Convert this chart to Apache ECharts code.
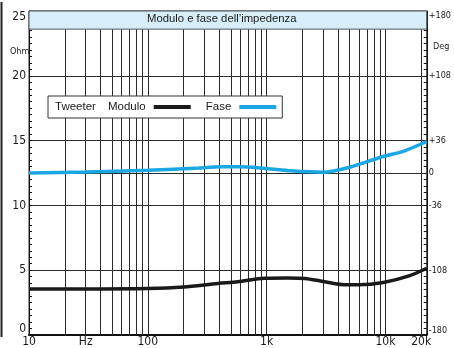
<!DOCTYPE html>
<html>
<head>
<meta charset="utf-8">
<script src="https://cdn.jsdelivr.net/npm/echarts@6/dist/echarts.min.js"></script>
<style>
html,body{margin:0;padding:0;background:#fff;}
#c{width:454px;height:348px;}
</style>
</head>
<body>
<div id="c"></div>
<script>
// ---- data ----
const titleText = 'Modulo e fase dell\u2019impedenza';
const freqModulo = [10, 30, 100, 200, 390, 570, 960, 1500, 2100, 3000, 4700, 6000, 9600, 15800, 22300];
const modulo =     [3.54, 3.55, 3.58, 3.7, 3.98, 4.1, 4.38, 4.4, 4.36, 4.13, 3.87, 3.87, 4.05, 4.56, 5.15];
const freqFase = [10, 30, 100, 270, 400, 600, 1000, 1600, 3000, 5000, 9700, 14100, 22300];
const fase =     [0, 1, 3, 5.5, 7, 7, 5, 2.4, 0.8, 6.4, 18.6, 24, 35];
const xLabelValues = [10, 30, 100, 1000, 10000, 20000];
const xLabelTexts = {10: '10', 30: 'Hz', 100: '100', 1000: '1k', 10000: '10k', 20000: '20k'};
const xGridFreqs = [20, 30, 40, 50, 60, 70, 80, 90,
                    200, 300, 400, 500, 600, 700, 800, 900,
                    2000, 3000, 4000, 5000, 6000, 7000, 8000, 9000, 20000];
const yLeftLabels = [0, 5, 10, 15, 20, 25];
const yRightLabels = [-180, -108, -36, 0, 36, 108, 180];
const yRightTexts = {'-180': '-180', '-108': '-108', '-36': '-36', '0': '0', '36': '+36', '108': '+108', '180': '+180'};
const legendTitle = 'Tweeter';

const FONT = "'Liberation Sans Narrow', 'DejaVu Sans Condensed', sans-serif";
const LINE = '#2a2a2a';

const chart = echarts.init(document.getElementById('c'), null, {renderer: 'canvas'});
chart.setOption({
  backgroundColor: '#ffffff',
  animation: false,
  title: {
    text: titleText,
    left: 147, top: 13,
    padding: 0,
    textStyle: {fontFamily: "'Liberation Sans', Arial, sans-serif", fontSize: 11.3, fontWeight: 'normal', color: '#1a1a1a'},
    z: 20
  },
  grid: {left: 29, right: 23, top: 11, bottom: 12, show: true, borderColor: LINE, borderWidth: 1, containLabel: false},
  legend: {
    data: ['Modulo', 'Fase'],
    left: 48, top: 96,
    align: 'right',
    icon: 'rect',
    itemWidth: 37, itemHeight: 4,
    itemGap: 15,
    padding: [5, 6, 5, 60],
    backgroundColor: '#ffffff',
    borderColor: '#333',
    borderWidth: 1,
    borderRadius: 0,
    textStyle: {fontFamily: "'Liberation Sans', Arial, sans-serif", fontSize: 11.5, color: '#1a1a1a', padding: [0, 3, 0, 0]},
    z: 20
  },
  graphic: [
    {type: 'text', left: 55, top: 101, z: 100,
     style: {text: legendTitle, font: "11.5px 'Liberation Sans', Arial, sans-serif", fill: '#1a1a1a'}},
    {type: 'text', left: 10, top: 47, z: 100,
     style: {text: 'Ohm', font: "9px " + FONT, fill: '#222'}},
    {type: 'text', left: 433, top: 42, z: 100,
     style: {text: 'Deg', font: "9px " + FONT, fill: '#222'}},
    {type: 'line', z: 100, shape: {x1: 1.5, y1: 2, x2: 1.5, y2: 337}, style: {stroke: '#222', lineWidth: 2}}
  ],
  xAxis: {
    type: 'log',
    logBase: 10,
    min: 10, max: 22300,
    axisLine: {show: true, lineStyle: {color: '#111', width: 2}},
    axisTick: {show: false},
    splitLine: {show: true, lineStyle: {color: LINE, width: 1}},
    axisLabel: {
      customValues: xLabelValues,
      formatter: v => xLabelTexts[Math.round(v)] || '',
      margin: 1,
      fontFamily: FONT, fontSize: 12, color: '#1a1a1a'
    }
  },
  yAxis: [
    {
      type: 'value', min: 0, max: 25, interval: 5, position: 'left',
      axisLine: {show: true, lineStyle: {color: '#111', width: 1}},
      axisTick: {show: true, inside: true, length: 3, lineStyle: {color: '#111'}},
      minorTick: {show: true, splitNumber: 10, length: 3, lineStyle: {color: '#111'}},
      splitLine: {show: true, lineStyle: {color: LINE, width: 1}},
      axisLabel: {
        customValues: yLeftLabels,
        margin: 3,
        fontFamily: FONT, fontSize: 12, color: '#1a1a1a',
        verticalAlignMinLabel: 'bottom', verticalAlignMaxLabel: 'top'
      }
    },
    {
      type: 'value', min: -180, max: 180, interval: 36, position: 'right',
      axisLine: {show: true, lineStyle: {color: '#111', width: 1}},
      axisTick: {show: true, inside: true, length: 3, lineStyle: {color: '#111'}},
      minorTick: {show: true, splitNumber: 5, length: 3, lineStyle: {color: '#111'}},
      splitLine: {show: false},
      axisLabel: {
        customValues: yRightLabels,
        formatter: v => yRightTexts[String(Math.round(v))] || '',
        margin: 2,
        fontFamily: FONT, fontSize: 9, color: '#1a1a1a',
        verticalAlignMinLabel: 'bottom', verticalAlignMaxLabel: 'top'
      }
    }
  ],
  series: [
    {
      name: 'Modulo',
      type: 'line',
      yAxisIndex: 0,
      data: freqModulo.map((f, i) => [f, modulo[i]]),
      smooth: 0.3,
      showSymbol: false,
      symbol: 'none',
      z: 5,
      color: '#1a1a1a',
      lineStyle: {color: '#1a1a1a', width: 3.5},
      markLine: {
        silent: true, symbol: 'none', z: 1, animation: false,
        label: {show: false},
        lineStyle: {color: LINE, width: 1, type: 'solid'},
        data: xGridFreqs.map(f => ({xAxis: f}))
      },
      markArea: {
        silent: true, z: 10,
        itemStyle: {color: '#d6eef9', borderColor: '#555', borderWidth: 1},
        data: [[{yAxis: 23.6}, {yAxis: 25}]]
      }
    },
    {
      name: 'Fase',
      type: 'line',
      yAxisIndex: 1,
      data: freqFase.map((f, i) => [f, fase[i]]),
      smooth: 0.25,
      showSymbol: false,
      symbol: 'none',
      z: 5,
      color: '#1ba7e3',
      lineStyle: {color: '#1ba7e3', width: 3.5},
      markLine: {
        silent: true, symbol: 'none', z: 1, animation: false,
        label: {show: false},
        lineStyle: {color: LINE, width: 1, type: 'solid'},
        data: [{yAxis: 0}]
      }
    }
  ]
});
</script>
</body>
</html>
